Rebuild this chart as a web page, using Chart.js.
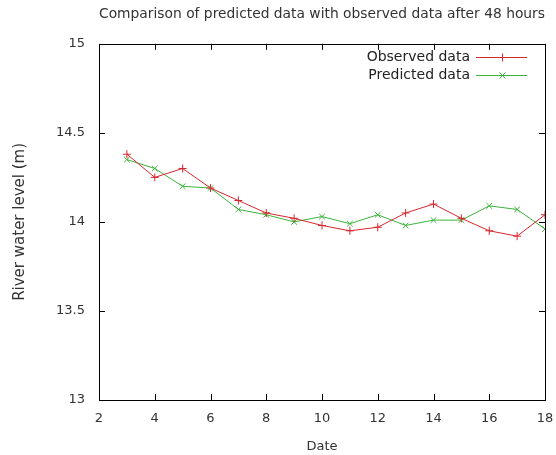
<!DOCTYPE html>
<html>
<head>
<meta charset="utf-8">
<script src="https://cdn.jsdelivr.net/npm/chart.js@4.4.0/dist/chart.umd.min.js"></script>
<style>
  html, body { margin: 0; padding: 0; background: #fff; }
  #wrap { width: 556px; height: 455px; }
</style>
</head>
<body>
<div id="wrap"><canvas id="chart" width="556" height="455"></canvas></div>
<script>
const dates = [3, 4, 5, 6, 7, 8, 9, 10, 11, 12, 13, 14, 15, 16, 17, 18];
const observed = [14.38, 14.25, 14.30, 14.19, 14.12, 14.05, 14.02, 13.98, 13.95, 13.97, 14.05, 14.10, 14.02, 13.95, 13.92, 14.04];
const predicted = [14.35, 14.30, 14.20, 14.19, 14.07, 14.04, 14.00, 14.03, 13.99, 14.04, 13.98, 14.01, 14.01, 14.09, 14.07, 13.96];
const xTicks = [2, 4, 6, 8, 10, 12, 14, 16, 18];
const yTicks = [13, 13.5, 14, 14.5, 15];

const font = "'DejaVu Sans', sans-serif";
const red = "#d8272e";
const green = "#3cb43c";

// box + inward ticks, gnuplot style
const frame = {
  id: "frame",
  afterDraw(c) {
    let ctx = c.ctx, a = c.chartArea;
    let xs = c.scales.x, ys = c.scales.y;
    ctx.save();
    ctx.strokeStyle = "#000";
    ctx.lineWidth = 1;
    ctx.strokeRect(Math.round(a.left) + 0.5, Math.round(a.top) + 0.5,
      Math.round(a.right - a.left), Math.round(a.bottom - a.top));
    ctx.beginPath();
    xTicks.forEach(v => {
      let px = Math.round(xs.getPixelForValue(v)) + 0.5;
      ctx.moveTo(px, a.bottom); ctx.lineTo(px, a.bottom - 6);
      ctx.moveTo(px, a.top); ctx.lineTo(px, a.top + 6);
    });
    yTicks.forEach(v => {
      let py = Math.round(ys.getPixelForValue(v)) + 0.5;
      ctx.moveTo(a.left, py); ctx.lineTo(a.left + 6, py);
      ctx.moveTo(a.right, py); ctx.lineTo(a.right - 6, py);
    });
    ctx.stroke();
    ctx.restore();
  }
};

// legend: text then line sample, top right inside the box
const keyBox = {
  id: "keyBox",
  afterDraw(c) {
    let ctx = c.ctx, a = c.chartArea;
    ctx.save();
    ctx.font = "14px " + font;
    ctx.textAlign = "right";
    ctx.textBaseline = "middle";
    c.data.datasets.forEach((ds, i) => {
      let y = Math.round(a.top + 13 + i * 18);
      let x1 = a.right - 69, x2 = a.right - 18;
      ctx.fillStyle = "#222";
      ctx.fillText(ds.label, x1 - 6, y);
      ctx.strokeStyle = ds.borderColor;
      ctx.lineWidth = 1;
      ctx.beginPath();
      ctx.moveTo(x1, y + 0.5); ctx.lineTo(x2, y + 0.5);
      let m = Math.round((x1 + x2) / 2) + 0.5;
      if (i === 0) {
        ctx.moveTo(m, y - 3.5); ctx.lineTo(m, y + 4.5);
      } else {
        ctx.moveTo(m - 3, y - 2.5); ctx.lineTo(m + 3, y + 3.5);
        ctx.moveTo(m - 3, y + 3.5); ctx.lineTo(m + 3, y - 2.5);
      }
      ctx.stroke();
    });
    ctx.restore();
  }
};

new Chart(document.getElementById("chart"), {
  type: "line",
  data: {
    datasets: [
      {
        label: "Observed data",
        data: dates.map((d, i) => ({ x: d, y: observed[i] })),
        borderColor: red,
        backgroundColor: red,
        borderWidth: 1,
        pointStyle: "cross",
        pointRadius: 4,
        pointBorderWidth: 1,
        tension: 0
      },
      {
        label: "Predicted data",
        data: dates.map((d, i) => ({ x: d, y: predicted[i] })),
        borderColor: green,
        backgroundColor: green,
        borderWidth: 1,
        pointStyle: "crossRot",
        pointRadius: 4,
        pointBorderWidth: 1,
        tension: 0
      }
    ]
  },
  options: {
    responsive: false,
    animation: false,
    layout: { padding: { top: 0, right: 11, bottom: 0, left: 0 } },
    plugins: {
      legend: { display: false },
      tooltip: { enabled: false },
      title: {
        display: true,
        fullSize: false,
        text: "Comparison of predicted data with observed data after 48 hours",
        color: "#333",
        font: { family: font, size: 14, weight: "normal" },
        padding: { top: 6, bottom: 21 }
      }
    },
    scales: {
      x: {
        type: "linear",
        min: 2, max: 18,
        afterBuildTicks: s => { s.ticks = xTicks.map(v => ({ value: v })); },
        afterFit: s => { s.height = 55; s.paddingLeft = 0; s.paddingRight = 0; },
        grid: { display: false, drawTicks: false },
        border: { display: false },
        ticks: { color: "#333", font: { family: font, size: 13 }, padding: 11, maxRotation: 0 },
        title: { display: true, text: "Date", color: "#333", font: { family: font, size: 13 }, padding: { top: 4, bottom: 1 } }
      },
      y: {
        min: 13, max: 15,
        afterBuildTicks: s => { s.ticks = yTicks.map(v => ({ value: v })); },
        afterFit: s => { s.width = 99; },
        grid: { display: false, drawTicks: false },
        border: { display: false },
        ticks: { color: "#333", font: { family: font, size: 13 }, padding: 14, callback: v => String(v) },
        title: { display: true, text: "River water level (m)", color: "#333", font: { family: font, size: 15 }, padding: { top: 11, bottom: 0 } }
      }
    }
  },
  plugins: [frame, keyBox]
});
</script>
</body>
</html>
